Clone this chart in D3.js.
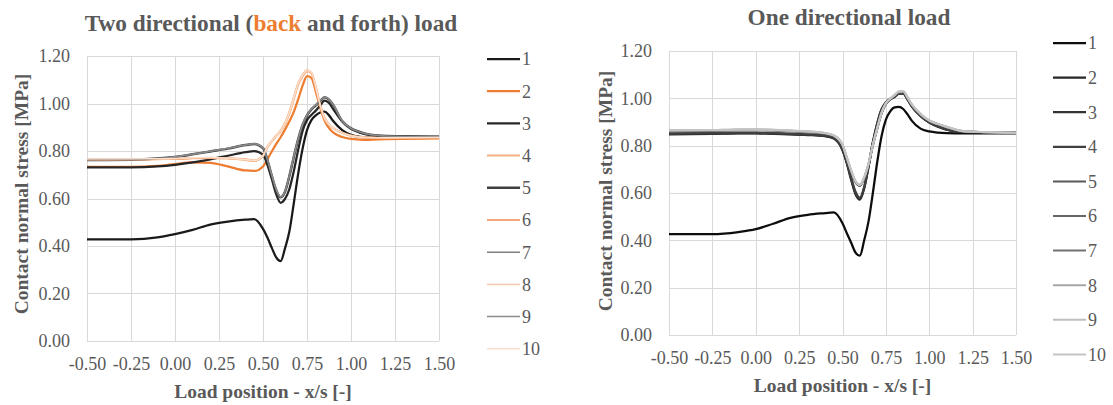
<!DOCTYPE html>
<html>
<head>
<meta charset="utf-8">
<script src="https://cdn.jsdelivr.net/npm/d3@7"></script>
<style>
body { margin: 0; background: #fff; }
text { font-family: "Liberation Serif", "Times New Roman", serif; fill: #595959; }
</style>
</head>
<body>
<svg id="chart" width="1113" height="405"></svg>
<script>
// load positions x/s, shared by every series
var xPos = [-0.5, -0.25, -0.1, 0.0, 0.1, 0.2, 0.3, 0.4, 0.45, 0.5, 0.525, 0.55, 0.575, 0.6, 0.625, 0.65,
            0.675, 0.7, 0.725, 0.75, 0.775, 0.8, 0.825, 0.85, 0.875, 0.9, 0.95, 1.0, 1.05, 1.1, 1.2, 1.5];

var xTicks = [-0.5, -0.25, 0, 0.25, 0.5, 0.75, 1.0, 1.25, 1.5];
var yTicks = [0, 0.2, 0.4, 0.6, 0.8, 1.0, 1.2];
var seriesNames = ["1", "2", "3", "4", "5", "6", "7", "8", "9", "10"];

// two directional (back and forth) load
var two1  = [0.428,0.428,0.436,0.450,0.468,0.490,0.503,0.511,0.513,0.472,0.436,0.392,0.352,0.336,0.390,0.462,0.580,0.705,0.810,0.888,0.930,0.950,0.962,0.966,0.950,0.925,0.888,0.868,0.860,0.857,0.855,0.855];
var two2  = [0.733,0.733,0.737,0.745,0.752,0.750,0.735,0.718,0.716,0.735,0.765,0.798,0.830,0.858,0.890,0.925,0.965,1.018,1.075,1.115,1.108,1.050,0.982,0.928,0.896,0.877,0.859,0.851,0.848,0.847,0.850,0.853];
var two3  = [0.731,0.731,0.735,0.742,0.752,0.765,0.780,0.795,0.800,0.785,0.742,0.682,0.618,0.582,0.598,0.640,0.715,0.805,0.885,0.930,0.952,0.970,0.992,1.012,1.002,0.975,0.925,0.893,0.877,0.868,0.862,0.860];
var two4  = [0.765,0.765,0.766,0.766,0.769,0.771,0.768,0.762,0.758,0.778,0.815,0.840,0.862,0.882,0.912,0.958,1.018,1.078,1.115,1.135,1.128,1.065,0.990,0.935,0.910,0.895,0.876,0.864,0.858,0.856,0.855,0.857];
var two5  = [0.762,0.763,0.768,0.775,0.786,0.798,0.810,0.825,0.830,0.812,0.762,0.695,0.635,0.605,0.628,0.695,0.775,0.850,0.910,0.950,0.975,0.992,1.010,1.026,1.016,0.992,0.925,0.895,0.880,0.870,0.863,0.860];
var two6  = [0.763,0.764,0.765,0.767,0.770,0.772,0.770,0.765,0.760,0.780,0.818,0.843,0.865,0.886,0.918,0.965,1.025,1.085,1.120,1.140,1.130,1.070,0.995,0.940,0.912,0.897,0.877,0.865,0.859,0.857,0.856,0.857];
var two7  = [0.764,0.765,0.769,0.776,0.787,0.799,0.812,0.826,0.831,0.815,0.765,0.700,0.640,0.608,0.630,0.698,0.778,0.852,0.912,0.952,0.977,0.994,1.012,1.028,1.018,0.994,0.927,0.896,0.880,0.870,0.863,0.860];
var two8  = [0.766,0.766,0.767,0.768,0.771,0.772,0.769,0.763,0.759,0.779,0.816,0.842,0.863,0.884,0.915,0.962,1.022,1.082,1.118,1.138,1.130,1.068,0.992,0.937,0.911,0.896,0.876,0.864,0.858,0.856,0.855,0.857];
var two9  = [0.763,0.764,0.768,0.775,0.786,0.798,0.811,0.825,0.830,0.813,0.763,0.697,0.637,0.606,0.629,0.696,0.776,0.851,0.911,0.951,0.976,0.993,1.011,1.027,1.017,0.993,0.926,0.895,0.880,0.870,0.863,0.860];
var two10 = [0.767,0.767,0.768,0.769,0.772,0.773,0.770,0.764,0.760,0.780,0.817,0.843,0.864,0.885,0.916,0.963,1.024,1.084,1.120,1.140,1.132,1.070,0.994,0.938,0.912,0.897,0.877,0.865,0.859,0.857,0.856,0.857];

// one directional load
var one1  = [0.426,0.426,0.435,0.447,0.470,0.495,0.508,0.515,0.518,0.472,0.430,0.390,0.348,0.335,0.400,0.480,0.600,0.730,0.840,0.910,0.945,0.962,0.964,0.955,0.932,0.905,0.872,0.860,0.855,0.853,0.852,0.852];
var one2  = [0.848,0.850,0.852,0.852,0.850,0.848,0.845,0.840,0.830,0.780,0.725,0.655,0.595,0.572,0.620,0.710,0.810,0.890,0.950,0.980,0.995,1.005,1.020,1.020,0.995,0.965,0.925,0.898,0.880,0.868,0.858,0.855];
var one3  = [0.850,0.851,0.853,0.853,0.851,0.849,0.846,0.841,0.832,0.783,0.728,0.660,0.600,0.576,0.622,0.712,0.812,0.892,0.952,0.982,0.997,1.007,1.021,1.021,0.996,0.966,0.926,0.899,0.881,0.868,0.858,0.855];
var one4  = [0.852,0.853,0.855,0.855,0.853,0.851,0.848,0.843,0.834,0.786,0.732,0.665,0.605,0.580,0.626,0.716,0.815,0.894,0.954,0.984,0.999,1.009,1.022,1.022,0.997,0.967,0.927,0.900,0.882,0.869,0.858,0.855];
var one5  = [0.862,0.863,0.865,0.865,0.864,0.861,0.857,0.850,0.840,0.800,0.745,0.690,0.645,0.630,0.662,0.720,0.800,0.870,0.935,0.975,0.995,1.010,1.025,1.026,1.000,0.970,0.930,0.905,0.890,0.878,0.860,0.855];
var one6  = [0.863,0.864,0.866,0.866,0.865,0.862,0.858,0.851,0.841,0.801,0.746,0.691,0.646,0.631,0.663,0.721,0.801,0.871,0.936,0.976,0.996,1.011,1.026,1.027,1.001,0.971,0.931,0.905,0.890,0.878,0.860,0.855];
var one7  = [0.864,0.865,0.867,0.867,0.866,0.863,0.859,0.852,0.842,0.802,0.748,0.693,0.648,0.633,0.664,0.722,0.802,0.872,0.937,0.977,0.997,1.012,1.027,1.028,1.002,0.972,0.932,0.906,0.891,0.879,0.860,0.855];
var one8  = [0.864,0.865,0.867,0.867,0.866,0.863,0.860,0.853,0.843,0.803,0.749,0.694,0.649,0.634,0.665,0.723,0.803,0.873,0.938,0.978,0.998,1.013,1.028,1.029,1.003,0.973,0.933,0.906,0.891,0.879,0.861,0.855];
var one9  = [0.865,0.866,0.868,0.868,0.867,0.864,0.860,0.853,0.843,0.804,0.750,0.695,0.650,0.635,0.666,0.724,0.804,0.874,0.939,0.979,0.999,1.014,1.029,1.030,1.004,0.974,0.934,0.907,0.892,0.880,0.861,0.855];
var one10 = [0.865,0.866,0.868,0.868,0.867,0.864,0.861,0.854,0.844,0.805,0.751,0.696,0.651,0.636,0.667,0.725,0.805,0.875,0.940,0.980,1.000,1.015,1.030,1.031,1.005,0.975,0.935,0.907,0.892,0.880,0.861,0.855];

// line styles
var twoColors = ["#1a1a1a", "#ed7d31", "#262626", "#f4b183", "#404040", "#f4a878", "#7f7f7f", "#f8cbad", "#8c8c8c", "#fbe0ce"];
var twoWidths = [2.25, 2.25, 2.25, 2, 2.5, 2, 1.25, 1.25, 1.25, 1.25];
var oneColors = ["#0d0d0d", "#262626", "#333333", "#404040", "#595959", "#666666", "#737373", "#a6a6a6", "#bfbfbf", "#c4c4c4"];
var oneWidths = [2.25, 2.25, 2.25, 2.25, 2, 2, 2, 2, 2, 2];

var svg = d3.select("#chart");

function drawPanel(p) {
    var x = d3.scaleLinear().domain([-0.5, 1.5]).range([p.left, p.right]);
    var y = d3.scaleLinear().domain([0, 1.2]).range([p.bottom, p.top]);

    var g = svg.append("g");

    // gridlines
    g.selectAll(".vgrid").data(xTicks).enter().append("line")
        .attr("x1", function(d) { return Math.round(x(d)) + 0.5; })
        .attr("x2", function(d) { return Math.round(x(d)) + 0.5; })
        .attr("y1", p.top).attr("y2", p.bottom)
        .attr("stroke", "#d9d9d9").attr("stroke-width", 1);

    g.selectAll(".hgrid").data(yTicks).enter().append("line")
        .attr("x1", p.left).attr("x2", p.right)
        .attr("y1", function(d) { return Math.round(y(d)) + 0.5; })
        .attr("y2", function(d) { return Math.round(y(d)) + 0.5; })
        .attr("stroke", "#d9d9d9").attr("stroke-width", 1);

    // axes (labels only)
    var xAxis = g.append("g")
        .attr("transform", "translate(0," + p.bottom + ")")
        .call(d3.axisBottom(x).tickValues(xTicks).tickSize(0).tickPadding(16)
            .tickFormat(function(d) { return d.toFixed(2); }));
    xAxis.select(".domain").remove();
    xAxis.attr("font-size", 18);

    var yAxis = g.append("g")
        .attr("transform", "translate(" + p.left + ",0)")
        .call(d3.axisLeft(y).tickValues(yTicks).tickSize(0).tickPadding(17)
            .tickFormat(function(d) { return d.toFixed(2); }));
    yAxis.select(".domain").remove();
    yAxis.attr("font-size", 18);

    // series
    var line = d3.line()
        .x(function(d) { return x(d.x); })
        .y(function(d) { return y(d.y); })
        .curve(d3.curveMonotoneX);

    p.series.forEach(function(vals, i) {
        var pts = vals.map(function(v, j) { return {x: xPos[j], y: v}; });
        g.append("path")
            .datum(pts)
            .attr("fill", "none")
            .attr("stroke", p.colors[i])
            .attr("stroke-width", p.widths[i])
            .attr("stroke-linejoin", "round")
            .attr("d", line);
    });

    // legend
    seriesNames.forEach(function(name, i) {
        var ly = p.legendTop + i * p.legendStep;
        g.append("line")
            .attr("x1", p.legendX).attr("x2", p.legendX + 33)
            .attr("y1", ly).attr("y2", ly)
            .attr("stroke", p.colors[i])
            .attr("stroke-width", Math.max(p.widths[i], 1.5));
        g.append("text")
            .attr("x", p.legendX + 35).attr("y", ly)
            .attr("dy", "0.35em")
            .attr("font-size", 18)
            .text(name);
    });

    // title
    var t = g.append("text")
        .attr("x", p.titleX).attr("y", p.titleY)
        .attr("text-anchor", "middle")
        .attr("font-size", 23.3)
        .attr("font-weight", "bold");
    p.title.forEach(function(part) {
        var ts = t.append("tspan").text(part.text);
        if (part.color) ts.style("fill", part.color);
    });

    // axis titles
    g.append("text")
        .attr("x", (p.left + p.right) / 2)
        .attr("y", p.bottom + 57)
        .attr("text-anchor", "middle")
        .attr("font-size", 19.5)
        .attr("font-weight", "bold")
        .text("Load position - x/s [-]");

    g.append("text")
        .attr("transform", "translate(" + p.yTitleX + "," + p.yTitleY + ") rotate(-90)")
        .attr("text-anchor", "middle")
        .attr("dy", "0.35em")
        .attr("font-size", 19.5)
        .attr("font-weight", "bold")
        .text("Contact normal stress [MPa]");
}

drawPanel({
    left: 87, right: 439, top: 56, bottom: 341,
    series: [two1, two2, two3, two4, two5, two6, two7, two8, two9, two10],
    colors: twoColors, widths: twoWidths,
    legendX: 487, legendTop: 59, legendStep: 32.2,
    title: [{text: "Two directional ("}, {text: "back", color: "#ed7d31"}, {text: " and forth) load"}],
    titleX: 271, titleY: 31,
    yTitleX: 21, yTitleY: 194
});

drawPanel({
    left: 669, right: 1016, top: 51, bottom: 335,
    series: [one1, one2, one3, one4, one5, one6, one7, one8, one9, one10],
    colors: oneColors, widths: oneWidths,
    legendX: 1053, legendTop: 43, legendStep: 34.6,
    title: [{text: "One directional load"}],
    titleX: 849, titleY: 25,
    yTitleX: 605, yTitleY: 191
});
</script>
</body>
</html>
